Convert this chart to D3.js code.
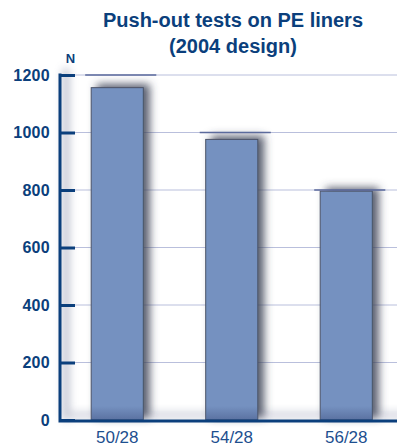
<!DOCTYPE html>
<html>
<head>
<meta charset="utf-8">
<script src="https://cdn.jsdelivr.net/npm/d3@7"></script>
<style>
  html, body { margin: 0; padding: 0; background: #fff; }
  svg { display: block; font-family: "Liberation Sans", Arial, Helvetica, sans-serif; }
</style>
</head>
<body>
<svg id="chart" width="397" height="447"></svg>
<script>
const categories = ["50/28", "54/28", "56/28"];
const values = [1156, 976, 796];
const capValues = [1200, 1000, 800];
const yTicks = [0, 200, 400, 600, 800, 1000, 1200];
const titleLines = ["Push-out tests on PE liners", "(2004 design)"];
const unitLabel = "N";

const svg = d3.select("#chart");
const W = 397, H = 447;
const navy = "#0b3f7c";

const x = d3.scaleBand().domain(categories).range([60, 403.5]).paddingInner(0.545).paddingOuter(0.2725);
const y = d3.scaleLinear().domain([0, 1200]).range([420, 75]);

const defs = svg.append("defs");
const sh = defs.append("filter").attr("id", "barShadow").attr("x", "-50%").attr("y", "-50%").attr("width", "200%").attr("height", "200%");
sh.append("feGaussianBlur").attr("in", "SourceAlpha").attr("stdDeviation", 4).attr("result", "b");
sh.append("feOffset").attr("in", "b").attr("dx", 6).attr("dy", -3).attr("result", "o");
sh.append("feFlood").attr("flood-color", "#3c4256").attr("flood-opacity", 0.85);
sh.append("feComposite").attr("in2", "o").attr("operator", "in").attr("result", "s");
const m = sh.append("feMerge");
m.append("feMergeNode").attr("in", "s");
m.append("feMergeNode").attr("in", "SourceGraphic");

const axBlur = defs.append("filter").attr("id", "axBlur").attr("x", "-50%").attr("y", "-50%").attr("width", "200%").attr("height", "200%");
axBlur.append("feGaussianBlur").attr("stdDeviation", 4);

const bg = defs.append("linearGradient").attr("id", "barBottom").attr("x1", 0).attr("x2", 0).attr("y1", 0).attr("y2", 1);
bg.append("stop").attr("offset", 0).attr("stop-color", "#2a3868").attr("stop-opacity", 0);
bg.append("stop").attr("offset", 1).attr("stop-color", "#2a3868").attr("stop-opacity", 0.35);

// title
svg.append("g").selectAll("text").data(titleLines).join("text")
  .attr("x", 233).attr("y", (d, i) => 27 + i * 26)
  .attr("text-anchor", "middle")
  .attr("font-size", 20).attr("font-weight", "bold").attr("fill", navy)
  .text(d => d);

// axis shadow (soft)
const shadowG = svg.append("g").attr("filter", "url(#axBlur)").attr("opacity", 0.5);
shadowG.append("line").attr("x1", 66).attr("x2", 66).attr("y1", y(1200) - 6).attr("y2", y(0))
  .attr("stroke", "#6a7090").attr("stroke-width", 6);
shadowG.append("line").attr("x1", 66).attr("x2", W + 10).attr("y1", y(0) - 5).attr("y2", y(0) - 5)
  .attr("stroke", "#8a90aa").attr("stroke-width", 5);

// gridlines
svg.append("g").selectAll("line").data(yTicks.filter(d => d > 0)).join("line")
  .attr("x1", 75).attr("x2", W)
  .attr("y1", d => y(d)).attr("y2", d => y(d))
  .attr("stroke", "#b9bfdc").attr("stroke-width", 1);

// bars
const barsG = svg.append("g");
barsG.selectAll("rect.bar").data(values).join("rect").attr("class", "bar")
  .attr("x", (d, i) => x(categories[i]))
  .attr("y", d => y(d))
  .attr("width", x.bandwidth())
  .attr("height", d => y(0) - y(d))
  .attr("fill", "#7491c0")
  .attr("stroke", "#4c5468").attr("stroke-width", 1)
  .attr("filter", "url(#barShadow)");
barsG.selectAll("rect.shade").data(values).join("rect").attr("class", "shade")
  .attr("x", (d, i) => x(categories[i]) + 0.5)
  .attr("y", y(0) - 14)
  .attr("width", x.bandwidth() - 1)
  .attr("height", 14)
  .attr("fill", "url(#barBottom)");

// caps
svg.append("g").selectAll("line").data(capValues).join("line")
  .attr("x1", (d, i) => x(categories[i]) - 6)
  .attr("x2", (d, i) => x(categories[i]) + x.bandwidth() + 13)
  .attr("y1", d => y(d)).attr("y2", d => y(d))
  .attr("stroke", "#5b6a9c").attr("stroke-width", 1.6);

// y axis
const yAxis = d3.axisRight(y).tickValues(yTicks).tickSize(15).tickFormat("");
const ga = svg.append("g").attr("transform", "translate(60,0)").call(yAxis);
ga.select(".domain").remove();
ga.selectAll(".tick line").attr("stroke", navy).attr("stroke-width", 3);

svg.append("g").selectAll("text").data(yTicks).join("text")
  .attr("x", 50).attr("y", d => y(d) + 5.5)
  .attr("text-anchor", "end")
  .attr("font-size", 16).attr("font-weight", "bold").attr("letter-spacing", 0.3).attr("fill", navy)
  .text(d => d);

// axis lines
svg.append("path")
  .attr("d", `M60,${y(1200) - 1.5}V${y(0) + 1}H${W}`)
  .attr("fill", "none").attr("stroke", navy).attr("stroke-width", 3);

// unit label
svg.append("text").attr("x", 70.5).attr("y", 63).attr("text-anchor", "middle")
  .attr("font-size", 13).attr("font-weight", "bold").attr("fill", navy).text(unitLabel);

// x labels
const xAxis = d3.axisBottom(x).tickSize(0).tickPadding(0);
const gx = svg.append("g").attr("transform", `translate(0,${y(0)})`).call(xAxis);
gx.select(".domain").remove();
gx.selectAll(".tick text")
  .attr("y", 23).attr("dy", 0)
  .attr("font-size", 17).attr("font-family", "'Liberation Sans', Arial, sans-serif")
  .attr("fill", "#1d4f8f");
</script>
</body>
</html>
